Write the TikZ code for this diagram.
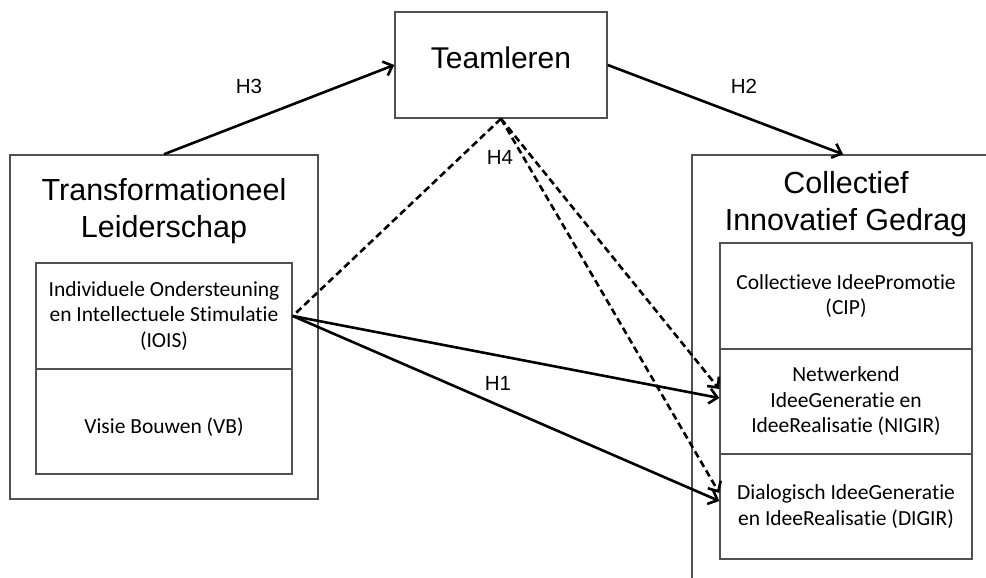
\documentclass[tikz,border=0pt]{standalone}
\usepackage{fontspec}
\setmainfont{Liberation Sans}
\newfontfamily\calibrifont[Ligatures={NoCommon}, RawFeature={-liga;-clig;-calt;-dlig}]{Carlito}
\usetikzlibrary{positioning, arrows.meta}
\definecolor{boxgray}{RGB}{80,80,80}

\begin{document}
\begin{tikzpicture}[x=1pt, y=-1pt,
    box/.style={draw=boxgray, line width=1.5pt, rectangle, inner sep=0pt},
    subbox/.style={box, minimum width=256pt, align=center,
      font=\calibrifont\fontsize{21.5}{25.5}\selectfont},
    headtext/.style={align=center, font=\fontsize{30.5}{37}\selectfont},
    link/.style={line width=2.6pt, -{Straight Barb[length=8pt, width=15pt]}},
    modlink/.style={link, dash pattern=on 7pt off 4pt},
    hlabel/.style={font=\fontsize{20.5}{24}\selectfont}]
  \useasboundingbox (0,0) rectangle (986,578);
  \clip (0,0) rectangle (986,578);

  % Mediator in the middle
  \node[box, minimum width=212pt, minimum height=106pt, text depth=14pt,
        font=\fontsize{30}{36}\selectfont] (team) at (501,65) {Teamleren};

  % Transformationeel leiderschap (left)
  \node[box, minimum width=308pt, minimum height=344pt] (lead) at (164,327) {};
  \node[headtext] (leadtitle) at (164,211.5)
    {Transformationeel\\Leiderschap};
  \node[subbox, minimum height=106pt] (iois) at (164,316)
    {Individuele Ondersteuning\\en Intellectuele Stimulatie\\(IOIS)};
  \node[subbox, minimum height=105pt] (vb) at (164,421.5)
    {\rule{0pt}{27pt}Visie Bouwen (VB)};

  % Collectief innovatief gedrag (right, runs off the page)
  \node[box, minimum width=330pt, minimum height=445pt] (innov) at (857,377.5) {};
  \node[headtext] (innovtitle) at (846,204.5)
    {Collectief\\Innovatief Gedrag};
  \node[subbox, minimum width=252pt, minimum height=106pt] (cip) at (846,296)
    {Collectieve IdeePromotie\\(CIP)};
  \node[subbox, minimum width=252pt, minimum height=105pt] (nigir) at (846,401.5)
    {Netwerkend\\IdeeGeneratie en\\IdeeRealisatie (NIGIR)};
  \node[subbox, minimum width=252pt, minimum height=105pt] (digir) at (846,506.5)
    {Dialogisch IdeeGeneratie\\en IdeeRealisatie (DIGIR)};

  % direct paths
  \draw[link] (lead.north) -- (team.west);
  \draw[link] (team.east) -- ([xshift=-14pt]innov.north);
  \draw[link] (iois.east) -- ([yshift=3.5pt]nigir.west);
  \draw[link] (iois.east) -- ([yshift=5.5pt]digir.west);

  % moderation via teamleren (dashed)
  \draw[line width=2.6pt, dash pattern=on 7pt off 4pt] (team.south) -- (iois.east);
  \draw[modlink] (team.south) -- ([yshift=12.5pt]nigir.west);
  \draw[modlink] (team.south) -- ([yshift=13.5pt]digir.west);

  % hypotheses
  \node[hlabel] (h3) at (249,86) {H3};
  \node[hlabel] (h2) at (744,86) {H2};
  \node[hlabel] (h4) at (500,157) {H4};
  \node[hlabel] (h1) at (498,383) {H1};
\end{tikzpicture}
\end{document}
